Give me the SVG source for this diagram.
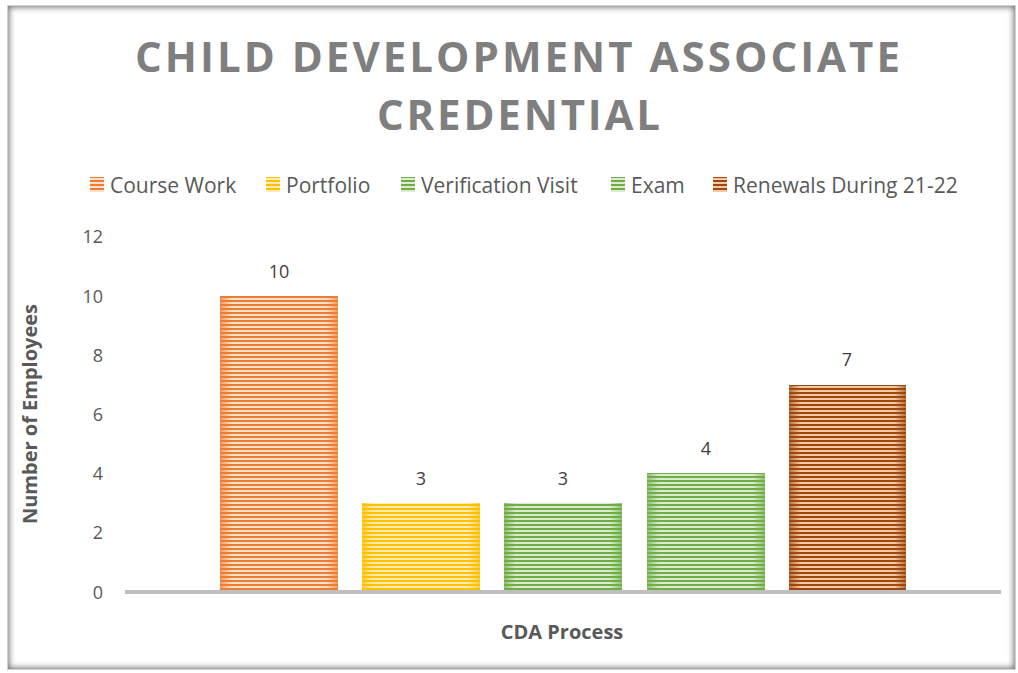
<svg xmlns="http://www.w3.org/2000/svg" width="1018" height="673" viewBox="0 0 1018 673">
<defs>
<style>
.t{font-family:"Open Sans","Liberation Sans",sans-serif;}
.title{font-size:42px;font-weight:bold;fill:#7f7f7f;}
.leg{font-size:21px;fill:#595959;}
.tick{font-size:18px;fill:#595959;text-anchor:end;}
.dl{font-size:18px;fill:#404040;text-anchor:middle;}
.ax{font-size:20px;font-weight:bold;fill:#595959;text-anchor:middle;}
</style>
<pattern id="pO" patternUnits="userSpaceOnUse" width="4" height="4"><rect width="4" height="4" fill="#fbe0cc"/><rect width="4" height="2" fill="#ED7D31"/></pattern>
<pattern id="pY" patternUnits="userSpaceOnUse" width="4" height="4"><rect width="4" height="4" fill="#ffedb3"/><rect width="4" height="2" fill="#FFC000"/></pattern>
<pattern id="pG" patternUnits="userSpaceOnUse" width="4" height="4"><rect width="4" height="4" fill="#dbebd0"/><rect width="4" height="2" fill="#70AD47"/></pattern>
<pattern id="pB" patternUnits="userSpaceOnUse" width="4" height="4"><rect width="4" height="4" fill="#f4c9a8"/><rect width="4" height="2" fill="#9E480E"/></pattern>
<linearGradient id="eO" x1="0" x2="1" y1="0" y2="0"><stop offset="0" stop-color="#ED7D31" stop-opacity="0.7"/><stop offset="0.1" stop-color="#ED7D31" stop-opacity="0"/><stop offset="0.9" stop-color="#ED7D31" stop-opacity="0"/><stop offset="1" stop-color="#ED7D31" stop-opacity="0.7"/></linearGradient>
<linearGradient id="eY" x1="0" x2="1" y1="0" y2="0"><stop offset="0" stop-color="#FFC000" stop-opacity="0.7"/><stop offset="0.1" stop-color="#FFC000" stop-opacity="0"/><stop offset="0.9" stop-color="#FFC000" stop-opacity="0"/><stop offset="1" stop-color="#FFC000" stop-opacity="0.7"/></linearGradient>
<linearGradient id="eG" x1="0" x2="1" y1="0" y2="0"><stop offset="0" stop-color="#70AD47" stop-opacity="0.7"/><stop offset="0.1" stop-color="#70AD47" stop-opacity="0"/><stop offset="0.9" stop-color="#70AD47" stop-opacity="0"/><stop offset="1" stop-color="#70AD47" stop-opacity="0.7"/></linearGradient>
<linearGradient id="eB" x1="0" x2="1" y1="0" y2="0"><stop offset="0" stop-color="#9E480E" stop-opacity="0.7"/><stop offset="0.1" stop-color="#9E480E" stop-opacity="0"/><stop offset="0.9" stop-color="#9E480E" stop-opacity="0"/><stop offset="1" stop-color="#9E480E" stop-opacity="0.7"/></linearGradient>
<clipPath id="fc"><rect x="8" y="6" width="1007" height="663"/></clipPath>
<filter id="blur" x="-5%" y="-5%" width="110%" height="110%"><feGaussianBlur stdDeviation="3"/></filter>
</defs>
<rect width="1018" height="673" fill="#ffffff"/>
<g id="frame">
<rect x="8" y="6" width="1007" height="663" fill="#ffffff"/>
<g clip-path="url(#fc)"><rect x="5" y="3" width="1013" height="669" fill="none" stroke="#6a6a6a" stroke-width="8" filter="url(#blur)"/></g>
<rect x="7.5" y="5.5" width="1008" height="664" fill="none" stroke="#d0d0d0" stroke-width="1"/>
</g>
<g id="title" class="t title">
<text x="135" y="72" textLength="765" lengthAdjust="spacing">CHILD DEVELOPMENT ASSOCIATE</text>
<text x="377" y="130" textLength="283" lengthAdjust="spacing">CREDENTIAL</text>
</g>
<g id="legend" class="t leg">
<rect x="90" y="177" width="14" height="15" fill="url(#pO)"/><text x="110" y="193">Course Work</text>
<rect x="266" y="177" width="14" height="15" fill="url(#pY)"/><text x="286" y="193">Portfolio</text>
<rect x="401" y="177" width="14" height="15" fill="url(#pG)"/><text x="421" y="193">Verification Visit</text>
<rect x="611" y="177" width="14" height="15" fill="url(#pG)"/><text x="631" y="193">Exam</text>
<rect x="713" y="177" width="14" height="15" fill="url(#pB)"/><text x="733" y="193">Renewals During 21-22</text>
</g>
<g id="y-axis" class="t tick">
<text x="103" y="243">12</text>
<text x="103" y="303">10</text>
<text x="103" y="362">8</text>
<text x="103" y="421">6</text>
<text x="103" y="480">4</text>
<text x="103" y="539">2</text>
<text x="103" y="599">0</text>
</g>
<g id="bars">
<g id="bar-course-work"><rect x="220" y="296" width="118" height="295" fill="url(#pO)"/><rect x="220" y="296" width="118" height="295" fill="url(#eO)"/></g>
<g id="bar-portfolio"><rect x="362" y="503" width="118" height="88" fill="url(#pY)"/><rect x="362" y="503" width="118" height="88" fill="url(#eY)"/></g>
<g id="bar-verification"><rect x="504" y="503" width="118" height="88" fill="url(#pG)"/><rect x="504" y="503" width="118" height="88" fill="url(#eG)"/></g>
<g id="bar-exam"><rect x="647" y="473" width="118" height="118" fill="url(#pG)"/><rect x="647" y="473" width="118" height="118" fill="url(#eG)"/></g>
<g id="bar-renewals"><rect x="789" y="385" width="117" height="206" fill="url(#pB)"/><rect x="789" y="385" width="117" height="206" fill="url(#eB)"/></g>
</g>
<g id="connectors"><line x1="125" y1="592" x2="1001" y2="592" stroke="#bfbfbf" stroke-width="4"/></g>
<g id="data-labels" class="t dl">
<text x="279" y="278">10</text>
<text x="421" y="485">3</text>
<text x="563" y="485">3</text>
<text x="706" y="455">4</text>
<text x="847" y="366">7</text>
</g>
<g id="axis-titles" class="t ax">
<text x="562" y="639">CDA Process</text>
<text transform="translate(37 414) rotate(-90)">Number of Employees</text>
</g>
</svg>
